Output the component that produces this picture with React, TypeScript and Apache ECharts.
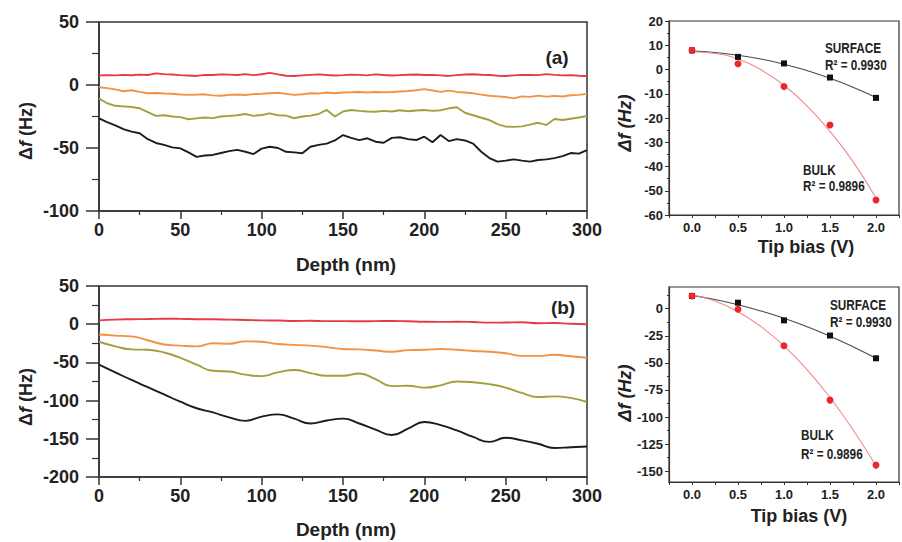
import React, { useEffect, useRef } from "react";
import * as echarts from "echarts";

// ---------- Data ----------
const depthA = [0,5,10,15,20,25,30,35,40,45,50,55,60,65,70,75,80,85,90,95,100,105,110,115,120,125,130,135,140,145,150,155,160,165,170,175,180,185,190,195,200,205,210,215,220,225,230,235,240,245,250,255,260,265,270,275,280,285,290,295,300];
const redA = [7.5,7.8,7.6,8.0,7.7,8.2,7.9,9.2,8.6,8.3,7.8,7.5,7.2,8.0,7.9,8.4,8.2,7.9,8.6,7.8,8.5,9.6,8.4,7.3,7.2,7.6,8.0,8.4,7.9,7.5,7.8,8.2,8.0,7.6,8.4,7.9,7.5,7.8,8.1,8.3,7.9,8.0,7.6,7.2,7.8,8.3,8.5,8.1,7.9,7.4,7.2,7.6,8.0,7.9,7.8,8.6,8.0,7.6,7.8,7.3,7.2];
const orangeA = [-1.8,-2.5,-3.5,-5.0,-4.2,-5.5,-6.5,-6.3,-6.8,-7.0,-7.5,-7.8,-7.6,-7.4,-8.2,-8.5,-7.8,-7.5,-7.9,-7.2,-7.0,-6.6,-6.2,-7.0,-7.8,-7.3,-6.5,-6.8,-6.0,-6.5,-6.0,-5.8,-5.5,-5.9,-5.6,-5.8,-5.6,-5.2,-4.8,-4.2,-3.3,-4.4,-5.5,-4.5,-5.5,-6.0,-6.6,-7.6,-8.5,-9.0,-9.5,-10.6,-9.0,-9.4,-8.4,-9.2,-8.6,-9.1,-8.1,-7.8,-7.0];
const oliveA = [-10.6,-14.5,-16.5,-17,-17.5,-18.5,-21.5,-24.5,-24,-25,-25.5,-27.2,-26.5,-25.8,-26.3,-25,-24.5,-24,-23,-24.5,-23.8,-22.5,-24,-24.3,-26.4,-25,-24.3,-23,-19.8,-25,-21,-19.8,-20.5,-21,-21.2,-20.5,-21,-20,-20.8,-20.2,-19.8,-20.5,-20,-18.5,-17.7,-22,-24,-26,-27.8,-31,-33,-33.2,-32.8,-31.5,-30,-31.7,-27,-27.8,-26.8,-25.8,-24.6];
const blackA = [-26.5,-29.5,-32,-35,-37,-38.3,-43,-46,-47.5,-49.5,-50.3,-53.5,-57,-56,-55.5,-54,-52.5,-51.5,-53,-54.8,-50.5,-49,-50,-53,-53.5,-54.2,-49,-47.5,-46.5,-44,-39.7,-42,-43.7,-42.3,-45,-45.8,-42,-41.5,-43,-43.7,-41,-45.5,-39.7,-44.5,-43,-44,-46.5,-53,-58,-60.8,-60,-59,-60,-60.8,-59.5,-59,-58,-56.5,-54,-54.5,-51.6];

const depthB = [0,10,20,30,40,50,60,70,80,90,100,110,120,130,140,150,160,170,180,190,200,210,220,230,240,250,260,270,280,290,300];
const redB = [5,6,6.5,6.8,7.2,7,6.5,6.4,6,5.5,5,4.8,4.2,4.5,4,4,3.8,4,4.2,3.8,3.2,3,3.2,2.8,2,2.2,2.5,1.2,1.5,0.5,0];
const orangeB = [-13.5,-15,-16,-21,-26.5,-28,-29,-25,-25.5,-22.5,-23,-26,-27,-28,-30,-32.5,-33,-34.5,-36,-34,-33.5,-32.5,-33.5,-35,-36,-38,-41.5,-41.5,-40,-42,-44];
const oliveB = [-23,-29,-33,-33.5,-37,-44,-53,-61,-62,-66,-68,-63,-60,-64,-67.5,-67.5,-64.5,-72,-81,-80.5,-83,-80,-75,-76,-78.5,-83,-90,-95.3,-94.5,-96.5,-101.8];
const blackB = [-53,-63,-73,-82.5,-92,-101.5,-110,-115.5,-122,-126.5,-121,-118,-123.6,-130,-126,-123.6,-130,-138,-145,-136.7,-128,-132,-139,-147.6,-154,-148.6,-152,-156.5,-162,-161,-160];

const biasV = [0, 0.5, 1.0, 1.5, 2.0];
const surfaceTop = [7.9, 5.2, 2.5, -3.3, -11.7];
const bulkTop = [7.9, 2.4, -7.0, -22.9, -53.8];
const surfaceBottom = [11.7, 5.5, -10.8, -24.8, -45.8];
const bulkBottom = [11.7, -0.6, -34.3, -84.4, -144.4];

const fitBias = [0, 0.25, 0.5, 0.75, 1.0, 1.25, 1.5, 1.75, 2.0];
const surfaceFitTop = [7.6, 7.0, 5.9, 4.3, 2.2, -0.45, -3.6, -7.3, -11.5];
const bulkFitTop = [7.2, 6.6, 4.3, -0.1, -6.5, -15.0, -25.5, -38.0, -53.0];
const surfaceFitBottom = [12.3, 8.5, 3.6, -2.2, -8.9, -16.7, -25.4, -35.1, -45.8];
const bulkFitBottom = [12.8, 7.0, -2.8, -16.6, -34.4, -56.2, -82.0, -111.8, -145.0];

const yTicksBR = [0, -25, -50, -75, -100, -125, -150];
const yMinorTicksBR = [12.5, -12.5, -37.5, -62.5, -87.5, -112.5, -137.5];

// ---------- Styles ----------
const FONT = '"Liberation Sans", Arial, Helvetica, sans-serif';
const TXT = "#222";
const AX = "#333";
const C_RED = "#e63a44";
const C_ORANGE = "#f39243";
const C_OLIVE = "#a39f3e";
const C_BLACK = "#1c1c1c";

function pairs(xs: number[], ys: number[]) {
  return xs.map((x, i) => [x, ys[i]]);
}

function leftX(gridIndex: number) {
  return {
    type: "value", gridIndex, min: 0, max: 300, interval: 50,
    axisLine: { show: true, onZero: false, lineStyle: { color: AX, width: 1.5 } },
    axisTick: { show: true, length: 8, lineStyle: { color: AX, width: 1.5 } },
    minorTick: { show: true, splitNumber: 2, length: 4, lineStyle: { color: AX, width: 1.2 } },
    axisLabel: { margin: 10, fontSize: 18, fontWeight: "bold", fontFamily: FONT, color: TXT },
    splitLine: { show: false }, minorSplitLine: { show: false },
  };
}
function leftY(gridIndex: number, min: number, max: number) {
  return {
    type: "value", gridIndex, min, max, interval: 50,
    axisLine: { show: true, onZero: false, lineStyle: { color: AX, width: 1.5 } },
    axisTick: { show: true, length: 13, lineStyle: { color: AX, width: 1.5 } },
    minorTick: { show: true, splitNumber: 2, length: 7, lineStyle: { color: AX, width: 1.2 } },
    axisLabel: { margin: 20, fontSize: 18, fontWeight: "bold", fontFamily: FONT, color: TXT },
    splitLine: { show: false }, minorSplitLine: { show: false },
  };
}
function rightX(gridIndex: number) {
  return {
    type: "value", gridIndex, min: -0.25, max: 2.25, interval: 0.25,
    axisLine: { show: true, onZero: false, lineStyle: { color: AX, width: 1.2 } },
    axisTick: { show: true, length: 3, lineStyle: { color: AX, width: 1 } },
    axisLabel: {
      margin: 6, fontSize: 13, fontWeight: "bold", fontFamily: FONT, color: TXT,
      showMinLabel: true, showMaxLabel: true,
      formatter: (v: number) => {
        const r = Math.round(v * 2);
        if (Math.abs(v * 2 - r) < 1e-6 && v > -1e-6 && v < 2 + 1e-6) return v.toFixed(1);
        return "";
      },
    },
    splitLine: { show: false },
  };
}

export default function App() {
  const ref = useRef<HTMLDivElement>(null);
  useEffect(() => {
    document.body.style.margin = "0";
    if (!ref.current) return;
    const chart = echarts.init(ref.current, null, { renderer: "svg" });

    const lineS = (xi: number, yi: number, xs: number[], ys: number[], color: string, smooth: any) => ({
      type: "line", xAxisIndex: xi, yAxisIndex: yi, data: pairs(xs, ys),
      showSymbol: false, symbol: "none", smooth, clip: true,
      lineStyle: { color, width: 1.9 }, itemStyle: { color },
    });
    const fitS = (xi: number, yi: number, ys: number[], color: string) => ({
      type: "line", xAxisIndex: xi, yAxisIndex: yi, data: pairs(fitBias, ys),
      showSymbol: false, symbol: "none", smooth: true,
      lineStyle: { color, width: 1.1 }, itemStyle: { color },
    });
    const ptS = (xi: number, yi: number, ys: number[], color: string, symbol: string, size: number) => ({
      type: "scatter", xAxisIndex: xi, yAxisIndex: yi, data: pairs(biasV, ys),
      symbol, symbolSize: size, itemStyle: { color, opacity: 1 }, z: 5,
    });

    const text = (x: number, y: number, t: string, size: number, extra: any = {}) => ({
      type: "text", x, y, silent: true, ...extra,
      style: {
        text: t, fill: TXT, fontSize: size, fontWeight: "bold", fontFamily: FONT,
        align: extra.align || "center", verticalAlign: "middle",
      },
    });
    const yTitle = (x: number, y: number, allItalic: boolean) => ({
      type: "text", x, y, rotation: Math.PI / 2, silent: true,
      style: {
        text: "{n|Δ}{i|f}{n| (Hz)}",
        fill: TXT, align: "center", verticalAlign: "middle",
        rich: {
          n: { fontSize: 18, fontWeight: "bold", fontFamily: FONT, fontStyle: allItalic ? "italic" : "normal", fill: TXT },
          i: { fontSize: 18, fontWeight: "bold", fontFamily: FONT, fontStyle: "italic", fill: TXT },
        },
      },
    });
    const note = (x: number, y: number, t: string) => ({
      type: "text", x, y, scaleX: 0.84, silent: true,
      style: { text: t, fill: TXT, fontSize: 14, fontWeight: "bold", fontFamily: FONT, align: "left", verticalAlign: "middle" },
    });

    chart.setOption({
      animation: false,
      backgroundColor: "#ffffff",
      grid: [
        { left: 99, top: 22, width: 488, height: 189, show: true, borderColor: AX, borderWidth: 1.5 },
        { left: 99, top: 286, width: 488, height: 191, show: true, borderColor: AX, borderWidth: 1.5 },
        { left: 669, top: 21, width: 238, height: 194, show: true, borderColor: AX, borderWidth: 1.2 },
        { left: 669, top: 287, width: 238, height: 195, show: true, borderColor: AX, borderWidth: 1.2 },
      ],
      xAxis: [leftX(0), leftX(1), rightX(2), rightX(3)],
      yAxis: [
        leftY(0, -100, 50),
        leftY(1, -200, 50),
        {
          type: "value", gridIndex: 2, min: -60, max: 20, interval: 10,
          axisLine: { show: true, onZero: false, lineStyle: { color: AX, width: 1.2 } },
          axisTick: { show: true, length: 4, lineStyle: { color: AX, width: 1 } },
          minorTick: { show: true, splitNumber: 2, length: 2, lineStyle: { color: AX, width: 1 } },
          axisLabel: { margin: 6, fontSize: 13, fontWeight: "bold", fontFamily: FONT, color: TXT },
          splitLine: { show: false }, minorSplitLine: { show: false },
        },
        {
          type: "value", gridIndex: 3, min: -160, max: 20, position: "left",
          axisLine: { show: true, onZero: false, lineStyle: { color: AX, width: 1.2 } },
          axisTick: { show: true, length: 4, customValues: yTicksBR, lineStyle: { color: AX, width: 1 } },
          axisLabel: { margin: 6, fontSize: 13, fontWeight: "bold", fontFamily: FONT, color: TXT, customValues: yTicksBR },
          splitLine: { show: false },
        },
        {
          type: "value", gridIndex: 3, min: -160, max: 20, position: "left",
          axisLine: { show: false, onZero: false },
          axisTick: { show: true, length: 2, customValues: yMinorTicksBR, lineStyle: { color: AX, width: 1 } },
          axisLabel: { show: false },
          splitLine: { show: false },
        },
      ],
      series: [
        lineS(0, 0, depthA, redA, C_RED, false),
        lineS(0, 0, depthA, orangeA, C_ORANGE, false),
        lineS(0, 0, depthA, oliveA, C_OLIVE, false),
        lineS(0, 0, depthA, blackA, C_BLACK, false),
        lineS(1, 1, depthB, redB, C_RED, true),
        lineS(1, 1, depthB, orangeB, C_ORANGE, true),
        lineS(1, 1, depthB, oliveB, C_OLIVE, true),
        lineS(1, 1, depthB, blackB, C_BLACK, true),
        fitS(2, 2, surfaceFitTop, "#4a4a4a"),
        fitS(2, 2, bulkFitTop, "#f08a8a"),
        ptS(2, 2, surfaceTop, "#111111", "rect", 6),
        ptS(2, 2, bulkTop, "#e8282d", "circle", 7),
        fitS(3, 3, surfaceFitBottom, "#4a4a4a"),
        fitS(3, 3, bulkFitBottom, "#f08a8a"),
        ptS(3, 3, surfaceBottom, "#111111", "rect", 6),
        ptS(3, 3, bulkBottom, "#e8282d", "circle", 7),
      ],
      graphic: [
        text(346, 264, "Depth (nm)", 19),
        text(346, 529, "Depth (nm)", 19),
        text(557, 57, "(a)", 19),
        text(563, 307, "(b)", 19),
        yTitle(26, 131, false),
        yTitle(26, 397, false),
        yTitle(625, 123, true),
        yTitle(625, 393, true),
        text(806, 247, "Tip bias (V)", 18),
        text(799, 516, "Tip bias (V)", 18),
        note(825, 48, "SURFACE"),
        note(825, 65, "R² = 0.9930"),
        note(803, 170, "BULK"),
        note(803, 186, "R² = 0.9896"),
        note(830, 305, "SURFACE"),
        note(830, 322, "R² = 0.9930"),
        note(801, 435, "BULK"),
        note(801, 454, "R² = 0.9896"),
      ],
    });
    return () => chart.dispose();
  }, []);
  return <div ref={ref} style={{ width: 902, height: 542 }} />;
}
